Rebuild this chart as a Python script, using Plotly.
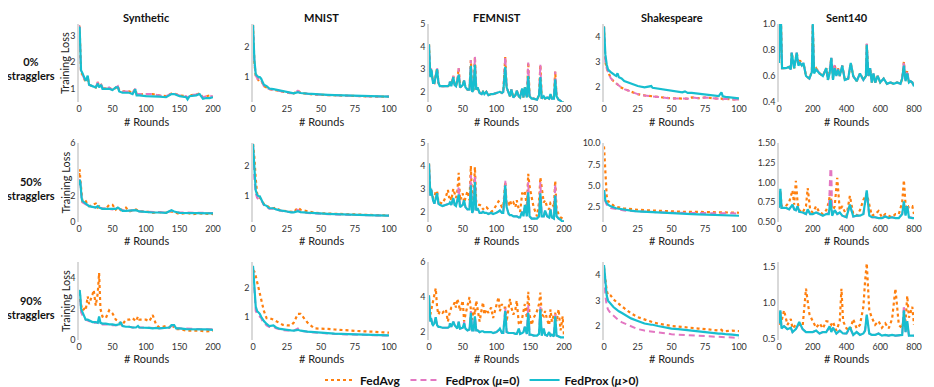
import plotly.graph_objects as go
from plotly.subplots import make_subplots

# ---------------- data ----------------
# Synthetic
syn0_x = [0, 1, 2, 3, 5, 8, 10, 13, 15, 20, 25, 28, 30, 33, 35, 40, 45, 50, 55, 58, 60, 65, 70, 75, 80,
          84, 86, 90, 100, 110, 120, 130, 138, 142, 150, 160, 162, 165, 175, 180, 185, 190, 195, 200]
syn0_p1 = [3.35, 3.3, 2.5, 1.7, 1.6, 1.45, 1.3, 1.5, 1.15, 1.1, 1.05, 1.2, 1.05, 1.15, 1.0, 1.0, 1.0, 0.95, 1.05, 1.05,
           0.9, 0.85, 0.85, 0.85, 0.8, 0.98, 0.75, 0.75, 0.72, 0.72, 0.7, 0.68, 0.8, 0.8, 0.72, 0.68, 0.6, 0.72, 0.75, 0.8,
           0.62, 0.65, 0.65, 0.68]
syn0_p0 = [3.4, 3.3, 2.4, 1.6, 1.55, 1.4, 1.25, 1.45, 1.15, 1.1, 1.05, 1.25, 1.1, 1.15, 1.05, 1.0, 1.05, 0.95, 1.05, 1.1,
           0.95, 0.9, 0.9, 0.9, 0.85, 1.0, 0.8, 0.8, 0.78, 0.8, 0.75, 0.72, 0.82, 0.82, 0.75, 0.72, 0.65, 0.75, 0.78, 0.82,
           0.68, 0.72, 0.75, 0.7]

syn1_x = [0, 1, 2, 3, 4, 5, 8, 10, 13, 15, 20, 25, 28, 30, 35, 40, 45, 50, 55, 58,
          62, 65, 70, 75, 80, 85, 90, 100, 110, 120, 130, 138, 142, 150, 160, 170, 180, 190, 200]
syn1_p1 = [2.8, 3.2, 3.0, 2.0, 1.8, 1.6, 1.5, 1.4, 1.3, 1.2, 1.15, 1.1, 1.2, 1.1, 1.0, 1.0, 0.95, 0.95, 1.0, 1.1,
           0.95, 0.85, 0.85, 0.85, 0.85, 0.9, 0.8, 0.75, 0.72, 0.72, 0.7, 0.9, 0.8, 0.7, 0.7, 0.65, 0.65, 0.65, 0.65]
syn1_p0 = [2.8, 3.3, 3.0, 2.0, 1.7, 1.5, 1.4, 1.35, 1.25, 1.2, 1.15, 1.1, 1.2, 1.1, 1.05, 1.0, 1.0, 0.95, 1.05, 1.1,
           0.95, 0.9, 0.9, 0.85, 0.9, 0.9, 0.8, 0.8, 0.75, 0.75, 0.72, 0.85, 0.8, 0.72, 0.72, 0.7, 0.7, 0.7, 0.68]
syn1_avg = [3.5, 4.0, 3.2, 2.5, 1.8, 1.6, 1.7, 1.6, 1.3, 1.2, 1.3, 1.4, 1.1, 1.2, 1.0, 1.0, 1.3, 1.3, 0.95, 1.1,
            0.9, 1.0, 1.1, 0.8, 0.9, 0.95, 0.8, 0.8, 0.7, 0.75, 0.7, 0.8, 0.75, 0.6, 0.7, 0.6, 0.65, 0.6, 0.6]

syn2_x = [0, 1, 2, 3, 5, 8, 10, 13, 15, 20, 22, 25, 28, 30, 32, 35, 40, 45, 50, 55,
          60, 62, 65, 70, 75, 80, 85, 88, 90, 100, 105, 110, 115, 120, 130, 135, 138, 142, 145, 150,
          160, 170, 180, 190, 200]
syn2_p1 = [3.0, 3.2, 2.8, 2.0, 1.8, 1.5, 1.3, 1.3, 1.25, 1.15, 1.15, 1.15, 1.1, 1.5, 1.1, 1.05, 1.05, 1.0, 1.0, 0.95,
           1.0, 1.15, 0.9, 0.85, 0.85, 0.8, 0.8, 0.9, 0.8, 0.8, 0.78, 0.75, 0.78, 0.75, 0.8, 0.8, 0.95, 0.95, 0.75, 0.75,
           0.7, 0.7, 0.68, 0.68, 0.65]
syn2_p0 = [3.0, 3.1, 2.6, 1.8, 1.6, 1.4, 1.3, 1.25, 1.2, 1.1, 1.1, 1.1, 1.1, 1.2, 1.05, 1.0, 1.0, 1.0, 0.95, 0.95,
           0.95, 1.1, 0.9, 0.85, 0.85, 0.8, 0.8, 0.85, 0.8, 0.8, 0.78, 0.75, 0.75, 0.75, 0.78, 0.8, 0.9, 0.9, 0.75, 0.75,
           0.72, 0.72, 0.7, 0.7, 0.68]
syn2_avg = [3.0, 3.2, 2.5, 2.2, 1.9, 2.0, 1.9, 2.8, 2.3, 2.9, 3.2, 2.2, 3.0, 4.3, 2.0, 1.5, 1.4, 1.9, 1.7, 1.3,
            1.2, 1.0, 1.0, 1.3, 1.3, 1.4, 1.2, 1.5, 1.3, 1.3, 1.2, 1.6, 1.0, 0.8, 0.9, 0.8, 1.0, 0.8, 0.7, 0.7,
            0.6, 0.6, 0.6, 0.55, 0.6]

# MNIST
mn_x = [0, 1, 2, 3, 4, 5, 6, 7, 8, 10, 12, 15, 17, 20, 22, 25, 28, 30, 33, 35, 40, 45, 50, 55, 60, 70, 80, 90, 100]
mn0_p1 = [2.75, 1.6, 1.1, 1.05, 1.0, 1.0, 0.95, 0.85, 0.75, 0.7, 0.62, 0.6, 0.58, 0.55, 0.52, 0.5, 0.47, 0.46, 0.5,
          0.47, 0.45, 0.43, 0.42, 0.41, 0.4, 0.39, 0.37, 0.36, 0.35]
mn0_p0 = [2.75, 1.5, 1.05, 0.95, 0.9, 0.92, 0.9, 0.8, 0.7, 0.65, 0.6, 0.58, 0.56, 0.53, 0.5, 0.48, 0.46, 0.46, 0.55,
          0.47, 0.44, 0.42, 0.41, 0.4, 0.39, 0.38, 0.36, 0.35, 0.35]
mn1_p1 = [2.75, 1.7, 1.2, 1.05, 1.0, 1.0, 0.92, 0.8, 0.72, 0.68, 0.6, 0.6, 0.56, 0.53, 0.52, 0.49, 0.46, 0.46, 0.5,
          0.47, 0.45, 0.43, 0.42, 0.41, 0.4, 0.38, 0.37, 0.36, 0.35]
mn1_p0 = [2.75, 1.6, 1.1, 0.95, 0.9, 0.92, 0.88, 0.78, 0.7, 0.64, 0.58, 0.58, 0.55, 0.52, 0.5, 0.48, 0.46, 0.46, 0.55,
          0.47, 0.44, 0.42, 0.41, 0.4, 0.39, 0.38, 0.36, 0.35, 0.35]
mn1_avg = [2.75, 2.3, 1.6, 1.1, 1.0, 0.95, 0.9, 0.8, 0.75, 0.7, 0.62, 0.6, 0.62, 0.53, 0.52, 0.49, 0.48, 0.47, 0.62,
           0.55, 0.5, 0.45, 0.43, 0.42, 0.41, 0.4, 0.38, 0.37, 0.36]
mn2_p1 = [2.75, 2.0, 1.35, 1.2, 1.15, 1.1, 1.0, 0.9, 0.85, 0.75, 0.68, 0.7, 0.63, 0.58, 0.56, 0.55, 0.53, 0.52, 0.55,
          0.52, 0.49, 0.47, 0.45, 0.43, 0.42, 0.4, 0.38, 0.37, 0.36]
mn2_p0 = [2.7, 1.8, 1.2, 1.1, 1.05, 1.0, 0.95, 0.85, 0.8, 0.7, 0.65, 0.65, 0.6, 0.56, 0.54, 0.53, 0.52, 0.52, 0.6,
          0.52, 0.48, 0.46, 0.44, 0.42, 0.41, 0.39, 0.37, 0.36, 0.35]
mn2_avg = [2.6, 2.55, 2.4, 2.2, 2.0, 1.8, 1.6, 1.4, 1.2, 0.95, 0.95, 0.9, 0.85, 0.75, 0.72, 0.7, 0.7, 0.8, 1.1,
           1.1, 0.8, 0.6, 0.6, 0.58, 0.56, 0.52, 0.5, 0.48, 0.45]

# FEMNIST
fem_x = [0, 1, 2, 3, 4, 5, 6, 8, 10, 12,
         14, 16, 20, 25, 28, 30, 31, 33, 36, 38,
         40, 42, 44, 46, 50, 52, 54, 57, 60, 62,
         64, 66, 68, 70, 72, 75, 78, 80, 82, 85,
         88, 92, 95, 100, 103, 105, 108, 110, 113, 115,
         118, 120, 122, 125, 128, 130, 133, 135, 138, 140,
         142, 145, 147, 149, 152, 155, 160, 163, 165, 167,
         170, 172, 175, 178, 180, 182, 185, 187, 189, 192,
         195, 198, 200]
fem0_p1 = [4.1, 3.3, 2.65, 3.0, 2.9, 2.6, 2.4, 2.4, 2.7, 3.0,
           2.4, 2.25, 2.25, 2.25, 2.25, 2.3, 2.45, 2.25, 2.65, 2.3,
           2.25, 2.5, 2.75, 2.2, 2.3, 2.5, 2.2, 2.1, 2.1, 3.15,
           2.0, 2.1, 3.2, 2.1, 2.2, 1.95, 1.9, 2.0, 1.9, 2.0,
           1.85, 1.9, 1.9, 1.95, 2.0, 2.0, 1.95, 2.0, 3.1, 2.2,
           1.95, 1.8, 2.1, 1.75, 1.85, 2.05, 1.8, 1.75, 2.15, 1.75,
           2.2, 1.75, 2.7, 1.8, 1.7, 1.7, 1.65, 1.85, 2.65, 1.7,
           1.8, 1.7, 1.75, 1.7, 1.9, 1.7, 1.7, 2.55, 1.8, 1.65,
           1.6, 1.5, 1.55]
fem0_p0 = [4.1, 3.3, 2.7, 3.05, 2.9, 2.6, 2.45, 2.4, 2.75, 3.05,
           2.4, 2.25, 2.25, 2.25, 2.25, 2.3, 2.45, 2.3, 2.7, 2.3,
           2.25, 2.5, 3.05, 2.2, 2.3, 2.5, 2.2, 2.1, 2.1, 3.4,
           2.0, 2.1, 3.55, 2.1, 2.2, 1.95, 1.9, 2.0, 1.9, 2.0,
           1.85, 1.9, 1.9, 1.95, 2.0, 2.0, 1.95, 2.0, 3.55, 2.2,
           1.95, 1.8, 2.1, 1.75, 1.85, 2.05, 1.8, 1.75, 2.15, 1.75,
           2.2, 1.75, 3.3, 1.8, 1.7, 1.7, 1.65, 1.85, 3.2, 1.7,
           1.8, 1.7, 1.75, 1.7, 1.9, 1.7, 1.7, 2.9, 1.8, 1.65,
           1.6, 1.5, 1.55]
fem1_p1 = [4.1, 3.0, 2.7, 3.0, 2.8, 2.5, 2.5, 2.35, 2.6, 2.8,
           2.35, 2.3, 2.25, 2.3, 2.3, 2.35, 2.4, 2.3, 2.6, 2.3,
           2.25, 2.45, 2.75, 2.2, 2.3, 2.5, 2.2, 2.1, 2.1, 3.15,
           1.95, 2.1, 3.3, 2.05, 2.15, 1.95, 1.95, 2.0, 1.95, 1.95,
           1.9, 1.95, 1.9, 1.95, 2.0, 2.05, 1.95, 1.95, 3.15, 2.2,
           1.9, 1.85, 1.85, 1.8, 1.8, 1.8, 1.75, 1.75, 2.0, 1.8,
           2.3, 1.8, 2.85, 1.8, 1.7, 1.7, 1.7, 1.8, 2.8, 1.8,
           1.8, 2.05, 1.8, 1.75, 2.1, 1.75, 1.7, 2.7, 1.8, 1.7,
           1.65, 1.55, 1.6]
fem1_p0 = [4.1, 3.0, 2.7, 3.0, 2.8, 2.5, 2.5, 2.35, 2.6, 2.8,
           2.35, 2.3, 2.25, 2.3, 2.3, 2.35, 2.4, 2.3, 2.6, 2.3,
           2.25, 2.45, 3.1, 2.2, 2.3, 2.5, 2.2, 2.1, 2.1, 3.6,
           1.95, 2.1, 3.6, 2.05, 2.15, 1.95, 1.95, 2.0, 1.95, 1.95,
           1.9, 1.95, 1.9, 1.95, 2.0, 2.05, 1.95, 1.95, 3.35, 2.2,
           1.9, 1.85, 1.85, 1.8, 1.8, 1.8, 1.75, 1.75, 2.0, 1.8,
           2.3, 1.8, 3.3, 1.8, 1.7, 1.7, 1.7, 1.8, 3.3, 1.8,
           1.8, 2.05, 1.8, 1.75, 2.1, 1.75, 1.7, 3.2, 1.8, 1.7,
           1.65, 1.55, 1.6]
fem1_avg = [4.1, 3.2, 2.8, 3.0, 2.8, 2.6, 2.6, 2.6, 2.9, 2.9,
            2.4, 2.4, 2.35, 2.65, 2.95, 2.6, 2.7, 2.5, 3.0, 2.8,
            2.6, 2.9, 3.7, 2.5, 2.8, 2.4, 2.6, 2.9, 2.5, 4.0,
            2.2, 2.6, 3.95, 2.4, 2.3, 2.3, 2.25, 2.1, 2.2, 2.2,
            2.1, 2.0, 2.05, 2.3, 2.45, 2.4, 2.2, 2.2, 3.3, 2.3,
            2.3, 2.5, 2.3, 2.4, 2.2, 2.5, 2.1, 2.0, 2.8, 2.8,
            2.9, 2.2, 3.65, 3.1, 2.6, 2.2, 1.8, 2.4, 3.5, 3.0,
            2.4, 2.5, 2.2, 2.1, 2.4, 2.4, 2.2, 3.35, 2.1, 1.9,
            1.75, 1.7, 1.7]
fem2_p1 = [4.1, 3.0, 2.6, 2.8, 2.5, 2.45, 2.4, 2.5, 2.85, 2.4,
           2.3, 2.3, 2.25, 2.25, 2.25, 2.3, 2.5, 2.3, 2.6, 2.4,
           2.3, 2.2, 2.6, 2.2, 2.25, 2.5, 2.2, 2.1, 2.15, 3.1,
           2.1, 2.1, 2.9, 2.1, 2.1, 2.0, 2.05, 2.05, 2.0, 2.0,
           2.0, 2.0, 1.95, 2.0, 2.1, 2.2, 1.95, 1.95, 3.2, 2.0,
           1.95, 1.95, 1.95, 1.95, 1.9, 1.9, 2.2, 1.9, 1.95, 2.0,
           2.3, 1.9, 3.1, 1.85, 1.85, 1.8, 1.8, 1.9, 3.3, 1.8,
           2.2, 1.85, 1.8, 2.0, 1.8, 1.85, 1.75, 2.9, 1.8, 1.75,
           1.7, 1.7, 1.7]
fem2_p0 = [4.1, 3.0, 2.6, 2.8, 2.5, 2.45, 2.4, 2.5, 2.85, 2.4,
           2.3, 2.3, 2.25, 2.25, 2.25, 2.3, 2.5, 2.3, 2.6, 2.4,
           2.3, 2.2, 2.6, 2.2, 2.25, 2.6, 2.2, 2.1, 2.15, 3.2,
           2.1, 2.1, 2.9, 2.1, 2.1, 2.0, 2.05, 2.05, 2.0, 2.0,
           2.0, 2.0, 1.95, 2.0, 2.1, 2.2, 1.95, 1.95, 3.4, 2.0,
           1.95, 1.95, 1.95, 1.95, 1.9, 1.9, 2.2, 1.9, 1.95, 2.0,
           2.3, 1.9, 3.55, 1.85, 1.85, 1.8, 1.8, 1.9, 3.5, 1.8,
           2.2, 1.85, 1.8, 2.0, 1.8, 1.85, 1.75, 3.05, 1.8, 1.75,
           1.7, 1.7, 1.7]
fem2_avg = [3.7, 3.3, 3.0, 3.2, 3.4, 3.6, 3.8, 4.1, 4.5, 3.4,
            3.0, 3.2, 3.1, 3.3, 2.6, 3.0, 3.2, 3.4, 3.5, 3.7,
            3.4, 3.9, 3.6, 3.2, 3.8, 2.6, 3.0, 3.5, 4.0, 3.3,
            2.7, 3.4, 3.0, 3.8, 3.2, 2.6, 3.3, 3.7, 3.0, 3.3,
            3.1, 3.4, 2.8, 3.6, 4.0, 3.2, 3.6, 3.4, 3.4, 2.6,
            3.3, 3.9, 3.4, 3.0, 3.3, 3.8, 2.5, 2.4, 2.8, 3.3,
            3.6, 2.8, 4.3, 3.0, 2.4, 2.8, 3.2, 3.6, 4.25, 3.0,
            2.9, 3.2, 2.7, 2.4, 3.3, 2.6, 3.0, 3.1, 2.6, 3.3,
            2.1, 2.9, 1.8]

# Shakespeare
sh_x = [0, 1, 2, 3, 5, 7, 8, 9, 10, 11, 13, 15, 20, 25, 30, 35, 36, 40, 45, 50,
        55, 58, 60, 62, 65, 70, 75, 80, 85, 87, 88, 90, 95, 100]
sh0_p1 = [4.4, 3.3, 2.9, 2.7, 2.6, 2.5, 2.48, 2.45, 2.55, 2.4, 2.35, 2.25, 2.15, 2.05, 2.0, 2.05, 1.98, 1.95, 1.9, 1.87,
          1.83, 1.8, 1.84, 1.78, 1.78, 1.75, 1.72, 1.68, 1.65, 1.8, 1.64, 1.62, 1.58, 1.56]
sh0_p0 = [4.4, 3.0, 2.75, 2.6, 2.36, 2.25, 2.2, 2.15, 2.1, 2.05, 1.98, 1.93, 1.82, 1.73, 1.68, 1.66, 1.64, 1.62, 1.59, 1.56,
          1.56, 1.55, 1.55, 1.55, 1.6, 1.57, 1.6, 1.56, 1.55, 1.55, 1.53, 1.55, 1.52, 1.52]
sh1_p1 = [4.5, 3.3, 3.0, 2.8, 2.6, 2.45, 2.4, 2.38, 2.35, 2.32, 2.28, 2.2, 2.1, 2.0, 1.95, 1.9, 1.9, 1.85, 1.8, 1.75,
          1.73, 1.72, 1.7, 1.7, 1.68, 1.65, 1.63, 1.6, 1.58, 1.57, 1.56, 1.55, 1.52, 1.5]
sh1_p0 = [4.5, 3.2, 2.8, 2.6, 2.4, 2.33, 2.3, 2.25, 2.2, 2.18, 2.15, 2.1, 2.05, 2.0, 1.95, 1.92, 1.92, 1.9, 1.88, 1.85,
          1.85, 1.85, 1.85, 1.85, 1.85, 1.85, 1.82, 1.8, 1.8, 1.8, 1.8, 1.8, 1.78, 1.75]
sh1_avg = [9.6, 6.0, 3.8, 3.2, 2.9, 2.7, 2.6, 2.55, 2.5, 2.48, 2.4, 2.35, 2.25, 2.2, 2.15, 2.1, 2.1, 2.05, 2.02, 2.0,
           1.98, 1.97, 1.95, 1.95, 1.95, 1.95, 1.92, 1.9, 1.9, 1.9, 1.9, 1.9, 1.87, 1.85]
sh2_p1 = [4.4, 3.6, 3.2, 3.0, 2.85, 2.75, 2.7, 2.65, 2.6, 2.58, 2.52, 2.45, 2.3, 2.2, 2.1, 2.05, 2.05, 2.0, 1.95, 1.9,
          1.88, 1.86, 1.85, 1.84, 1.82, 1.78, 1.75, 1.72, 1.7, 1.7, 1.69, 1.68, 1.66, 1.63]
sh2_p0 = [4.3, 3.2, 2.8, 2.65, 2.5, 2.4, 2.35, 2.3, 2.25, 2.22, 2.15, 2.1, 1.98, 1.88, 1.82, 1.78, 1.77, 1.74, 1.7, 1.68,
          1.66, 1.65, 1.65, 1.64, 1.63, 1.6, 1.6, 1.58, 1.57, 1.57, 1.56, 1.56, 1.55, 1.53]
sh2_avg = [4.3, 3.8, 3.4, 3.2, 3.2, 3.05, 3.0, 2.95, 2.9, 2.85, 2.78, 2.7, 2.5, 2.35, 2.25, 2.15, 2.15, 2.1, 2.05, 2.0,
           1.98, 1.97, 1.95, 1.94, 1.92, 1.9, 1.88, 1.85, 1.82, 1.85, 1.8, 1.8, 1.82, 1.8]

# Sent140
se0_x = [0, 5, 12, 18, 40, 60, 70, 75, 90, 105,
         115, 125, 135, 145, 160, 180, 195, 200, 208, 220,
         240, 260, 280, 290, 300, 310, 320, 330, 340, 350,
         360, 375, 390, 410, 425, 440, 460, 480, 500, 515,
         520, 530, 540, 550, 560, 570, 585, 600, 620, 640,
         660, 680, 700, 720, 730, 740, 750, 760, 770, 780,
         790, 800]
se0_p1 = [0.7, 1.0, 1.0, 0.66, 0.66, 0.67, 0.65, 0.78, 0.66, 0.78,
          0.68, 0.7, 0.68, 0.7, 0.6, 0.58, 0.63, 1.0, 0.62, 0.65,
          0.62, 0.6, 0.66, 0.57, 0.62, 0.74, 0.57, 0.66, 0.6, 0.65,
          0.6, 0.68, 0.57, 0.58, 0.7, 0.6, 0.56, 0.62, 0.57, 0.6,
          0.84, 0.6, 0.66, 0.55, 0.62, 0.55, 0.6, 0.55, 0.58, 0.54,
          0.55, 0.54, 0.55, 0.54, 0.58, 0.68, 0.56, 0.62, 0.55, 0.56,
          0.55, 0.52]
se0_p0 = [0.7, 1.0, 1.0, 0.66, 0.66, 0.67, 0.65, 0.78, 0.66, 0.78,
          0.7, 0.72, 0.68, 0.7, 0.6, 0.58, 0.64, 1.0, 0.64, 0.66,
          0.62, 0.6, 0.66, 0.57, 0.64, 0.74, 0.58, 0.69, 0.6, 0.66,
          0.6, 0.68, 0.57, 0.58, 0.7, 0.6, 0.56, 0.62, 0.57, 0.6,
          0.85, 0.6, 0.66, 0.55, 0.62, 0.55, 0.6, 0.55, 0.58, 0.54,
          0.55, 0.54, 0.55, 0.54, 0.58, 0.71, 0.56, 0.64, 0.55, 0.56,
          0.55, 0.52]
se1_x = [0, 8, 15, 40, 60, 80, 90, 100, 110, 120,
         140, 160, 170, 185, 200, 220, 240, 260, 280, 295,
         305, 310, 315, 330, 345, 360, 375, 400, 420, 440,
         460, 480, 500, 520, 535, 550, 570, 590, 610, 630,
         650, 670, 690, 710, 730, 740, 750, 760, 770, 790, 800]
se1_p1 = [0.68, 0.92, 0.68, 0.68, 0.66, 0.72, 0.66, 0.65, 0.7, 0.63,
          0.62, 0.6, 0.66, 0.6, 0.6, 0.62, 0.6, 0.58, 0.6, 0.6,
          0.78, 0.62, 0.58, 0.65, 0.6, 0.62, 0.58, 0.56, 0.72, 0.57,
          0.58, 0.58, 0.6, 0.9, 0.58, 0.56, 0.56, 0.55, 0.55, 0.57,
          0.55, 0.56, 0.55, 0.55, 0.6, 0.76, 0.58, 0.7, 0.56, 0.55, 0.55]
se1_p0 = [0.68, 0.9, 0.68, 0.68, 0.66, 0.72, 0.66, 0.65, 0.7, 0.63,
          0.62, 0.6, 0.66, 0.6, 0.6, 0.62, 0.6, 0.58, 0.6, 0.62,
          1.18, 1.15, 0.6, 0.65, 0.6, 0.62, 0.58, 0.56, 0.72, 0.57,
          0.58, 0.58, 0.6, 0.88, 0.58, 0.56, 0.56, 0.55, 0.55, 0.57,
          0.55, 0.56, 0.55, 0.55, 0.6, 0.74, 0.58, 0.72, 0.56, 0.55, 0.55]
se1_avg = [0.7, 0.9, 0.7, 0.7, 0.75, 0.9, 0.72, 1.02, 0.75, 0.65,
           0.62, 0.7, 0.93, 0.65, 0.62, 0.7, 0.62, 0.6, 0.65, 0.75,
           0.9, 0.8, 0.62, 0.7, 1.06, 0.65, 0.7, 0.58, 0.83, 0.6,
           0.58, 0.65, 0.78, 0.86, 0.7, 0.58, 0.6, 0.64, 0.56, 0.6,
           0.58, 0.56, 0.6, 0.6, 0.75, 1.03, 0.72, 0.65, 0.7, 0.7, 0.6]
se2_x = [0, 8, 15, 30, 50, 70, 80, 100, 120, 140,
         160, 180, 200, 220, 240, 260, 280, 300, 310, 320,
         340, 360, 370, 380, 400, 420, 440, 460, 480, 500,
         510, 520, 535, 550, 570, 590, 610, 630, 650, 670,
         690, 710, 730, 740, 750, 760, 770, 790, 800]
se2_p1 = [0.72, 0.9, 0.65, 0.68, 0.64, 0.66, 0.6, 0.64, 0.74, 0.64,
          0.6, 0.6, 0.6, 0.62, 0.58, 0.6, 0.6, 0.68, 0.6, 0.66,
          0.58, 0.62, 0.6, 0.58, 0.58, 0.67, 0.56, 0.6, 0.56, 0.58,
          0.62, 0.84, 0.58, 0.56, 0.56, 0.58, 0.55, 0.56, 0.55, 0.56,
          0.55, 0.55, 0.56, 0.9, 0.6, 0.75, 0.55, 0.55, 0.55]
se2_p0 = [0.72, 0.88, 0.65, 0.68, 0.64, 0.66, 0.6, 0.64, 0.72, 0.64,
          0.6, 0.6, 0.6, 0.62, 0.58, 0.6, 0.6, 0.66, 0.6, 0.66,
          0.58, 0.62, 0.6, 0.58, 0.58, 0.65, 0.56, 0.6, 0.56, 0.58,
          0.62, 0.82, 0.58, 0.56, 0.56, 0.58, 0.55, 0.56, 0.55, 0.56,
          0.55, 0.55, 0.56, 0.97, 0.6, 0.72, 0.55, 0.55, 0.55]
se2_avg = [0.7, 0.88, 0.75, 0.9, 0.7, 0.78, 0.65, 0.7, 0.7, 0.68,
           1.2, 0.85, 0.75, 0.66, 0.72, 0.65, 0.75, 0.74, 0.7, 0.74,
           0.62, 0.75, 1.2, 0.75, 0.65, 0.62, 0.78, 0.65, 0.7, 0.95,
           1.3, 1.55, 0.9, 0.8, 0.7, 0.75, 0.66, 0.72, 0.65, 0.78,
           1.2, 0.7, 0.65, 0.85, 0.75, 1.1, 0.8, 0.95, 0.7]

datasets = ["Synthetic", "MNIST", "FEMNIST", "Shakespeare", "Sent140"]
row_labels = ["0%<br>stragglers", "50%<br>stragglers", "90%<br>stragglers"]
series_names = ["FedAvg", "FedProx (<i>μ</i>=0)", "FedProx (<i>μ</i>>0)"]

# at 0% stragglers FedAvg and FedProx(mu=0) are the same run
panels = [
    # row, col, x, FedAvg, FedProx mu=0, FedProx mu>0
    (1, 1, syn0_x, syn0_p0, syn0_p0, syn0_p1),
    (1, 2, mn_x, mn0_p0, mn0_p0, mn0_p1),
    (1, 3, fem_x, fem0_p0, fem0_p0, fem0_p1),
    (1, 4, sh_x, sh0_p0, sh0_p0, sh0_p1),
    (1, 5, se0_x, se0_p0, se0_p0, se0_p1),
    (2, 1, syn1_x, syn1_avg, syn1_p0, syn1_p1),
    (2, 2, mn_x, mn1_avg, mn1_p0, mn1_p1),
    (2, 3, fem_x, fem1_avg, fem1_p0, fem1_p1),
    (2, 4, sh_x, sh1_avg, sh1_p0, sh1_p1),
    (2, 5, se1_x, se1_avg, se1_p0, se1_p1),
    (3, 1, syn2_x, syn2_avg, syn2_p0, syn2_p1),
    (3, 2, mn_x, mn2_avg, mn2_p0, mn2_p1),
    (3, 3, fem_x, fem2_avg, fem2_p0, fem2_p1),
    (3, 4, sh_x, sh2_avg, sh2_p0, sh2_p1),
    (3, 5, se2_x, se2_avg, se2_p0, se2_p1),
]

x_ranges = [[0, 200], [0, 100], [0, 200], [0, 100], [0, 800]]
x_ticks = [[0, 50, 100, 150, 200], [0, 25, 50, 75, 100], [0, 50, 100, 150, 200],
           [0, 25, 50, 75, 100], [0, 200, 400, 600, 800]]
y_ranges = [
    [[0.5, 3.45], [0.17, 2.78], [1.55, 5.0], [1.42, 4.5], [0.4, 1.0]],
    [[0, 6], [0.14, 2.78], [1.55, 5.0], [0.77, 10.0], [0.5, 1.5]],
    [[0, 5], [0.2, 2.88], [1.55, 6.0], [1.45, 4.52], [0.49, 1.57]],
]
y_ticks = [
    [[1, 2, 3], [1, 2], [2, 3, 4, 5], [2, 3, 4], [0.4, 0.6, 0.8, 1.0]],
    [[0, 2, 6], [1, 2], [2, 3, 4, 5], [2.5, 5.0, 7.5, 10.0], [0.5, 0.75, 1.0, 1.25, 1.5]],
    [[0, 2, 4], [1, 2], [2, 4, 6], [2, 3, 4], [0.5, 1.0, 1.5]],
]
y_fmt = [
    ["", "", "", "", ".1f"],
    ["", "", "", ".1f", ".2f"],
    ["", "", "", "", ".1f"],
]

# ---------------- figure ----------------
# the page body adds an 8px margin, so positions below are screen pixels minus OFF
OFF = 8
W, H = 934 - OFF, 387 - OFF
col_px = [(79, 213), (253, 389), (429, 564), (604, 739), (779, 914)]
row_px = [(24, 102), (143, 222), (262, 340)]


def px(v):
    return (v - OFF) / W


def py(v):
    return 1 - (v - OFF) / H


FONT = "Lato"
C_AVG, C_P0, C_P1 = "#ff7f0e", "#e377c2", "#17becf"

fig = make_subplots(rows=3, cols=5)

for r, c, x, avg, p0, p1 in panels:
    first = (r == 1 and c == 1)
    fig.add_trace(go.Scatter(x=x, y=avg, mode="lines", name=series_names[0], showlegend=first,
                             line=dict(color=C_AVG, width=2.2, dash="dot")), row=r, col=c)
    fig.add_trace(go.Scatter(x=x, y=p0, mode="lines", name=series_names[1], showlegend=first,
                             line=dict(color=C_P0, width=2, dash="6px,4px")), row=r, col=c)
    fig.add_trace(go.Scatter(x=x, y=p1, mode="lines", name=series_names[2], showlegend=first,
                             line=dict(color=C_P1, width=2.2)), row=r, col=c)

for r in range(3):
    for c in range(5):
        x0, x1 = col_px[c]
        top, bot = row_px[r]
        fig.update_xaxes(domain=[px(x0), px(x1)], range=x_ranges[c], tickvals=x_ticks[c],
                         showgrid=False, zeroline=False, showline=False, ticks="",
                         tickfont=dict(size=9, color="#333", family=FONT), row=r + 1, col=c + 1)
        fig.update_yaxes(domain=[py(bot), py(top)], range=y_ranges[r][c], tickvals=y_ticks[r][c],
                         tickformat=y_fmt[r][c], showgrid=False, zeroline=False,
                         showline=True, linecolor="#d9d9d9", linewidth=1.5, ticks="",
                         tickfont=dict(size=9, color="#333", family=FONT), row=r + 1, col=c + 1)

annotations = []
for c, name in enumerate(datasets):
    xc = px((col_px[c][0] + col_px[c][1]) / 2)
    annotations.append(dict(text="<b>%s</b>" % name, x=xc, y=py(17), xref="paper", yref="paper",
                            xanchor="center", yanchor="middle", showarrow=False,
                            font=dict(size=11, color="#111", family=FONT)))
    for r, ylab in enumerate([121, 240, 358]):
        annotations.append(dict(text="# Rounds", x=xc, y=py(ylab), xref="paper", yref="paper",
                                xanchor="center", yanchor="middle", showarrow=False,
                                font=dict(size=11, color="#222", family=FONT)))

for r, lab in enumerate(row_labels):
    yc = [68, 188, 307][r]
    annotations.append(dict(text="<b>%s</b>" % lab, x=px(31), y=py(yc), xref="paper", yref="paper",
                            xanchor="center", yanchor="middle", showarrow=False, align="center",
                            font=dict(size=11, color="#111", family=FONT)))
    yc2 = (row_px[r][0] + row_px[r][1]) / 2
    annotations.append(dict(text="Training Loss", x=px(65), y=py(yc2), xref="paper", yref="paper",
                            xanchor="center", yanchor="middle", textangle=-90, showarrow=False,
                            font=dict(size=11, color="#222", family=FONT)))

fig.update_layout(
    width=W, height=H,
    margin=dict(l=0, r=0, t=0, b=0, autoexpand=False),
    paper_bgcolor="white", plot_bgcolor="white",
    font=dict(family=FONT, color="#222"),
    annotations=annotations,
    legend=dict(orientation="h", x=px(320), xanchor="left", y=py(380), yanchor="middle",
                font=dict(size=12, color="#111", family=FONT, weight="bold"), bgcolor="rgba(0,0,0,0)",
                itemwidth=30, tracegroupgap=0),
)

fig.write_html("out.html")
